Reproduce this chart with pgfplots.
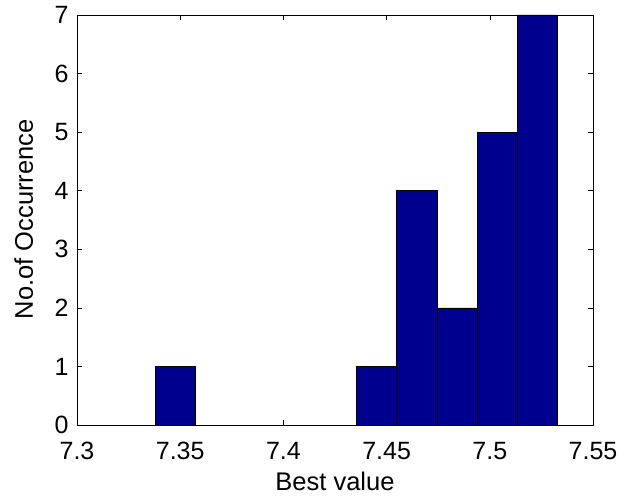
\documentclass[border=0pt]{standalone}
\usepackage{pgfplots}
\pgfplotsset{compat=1.18}
\usepackage{fontspec}
\setmainfont{Liberation Sans}
\definecolor{matblue}{RGB}{0,0,143}
\begin{document}
\begin{tikzpicture}
\begin{axis}[
  scale only axis,
  width=516pt, height=410pt,
  xmin=7.3, xmax=7.55, ymin=0, ymax=7,
  xtick={7.3,7.35,7.4,7.45,7.5,7.55},
  ytick={0,1,2,3,4,5,6,7},
  /pgf/number format/assume math mode=true,
  /pgf/number format/precision=2,
  tick align=inside,
  major tick length=5pt,
  tick style={black, line width=0.6pt},
  axis line style={black, line width=0.8pt},
  tick label style={font=\fontsize{25}{25}\selectfont, inner sep=1pt},
  xticklabel style={yshift=-16.3pt},
  yticklabel style={xshift=-7.3pt},
  label style={font=\fontsize{25.5}{25.5}\selectfont},
  xlabel={Best value},
  ylabel={No.of Occurrence},
  xlabel style={at={(axis description cs:0.5,-0.137)}, anchor=center},
  ylabel style={at={(axis description cs:-0.103,0.502)}, anchor=center, rotate=0},
  xtick pos=both, ytick pos=both,
  clip=false,
]
\addplot[ybar interval, fill=matblue, draw=black, line width=0.6pt]
  coordinates {(7.3378,1) (7.35731,1)};
\addplot[ybar interval, fill=matblue, draw=black, line width=0.6pt]
  coordinates {(7.43535,1) (7.45486,4) (7.47437,2) (7.49388,5) (7.51339,7) (7.5329,7)};
\end{axis}
\path (current axis.south west) ++(-77pt,-74pt) coordinate (bl);
\path (current axis.north east) ++(28pt,15pt) coordinate (tr);
\useasboundingbox (bl) rectangle (tr);
\end{tikzpicture}
\end{document}
